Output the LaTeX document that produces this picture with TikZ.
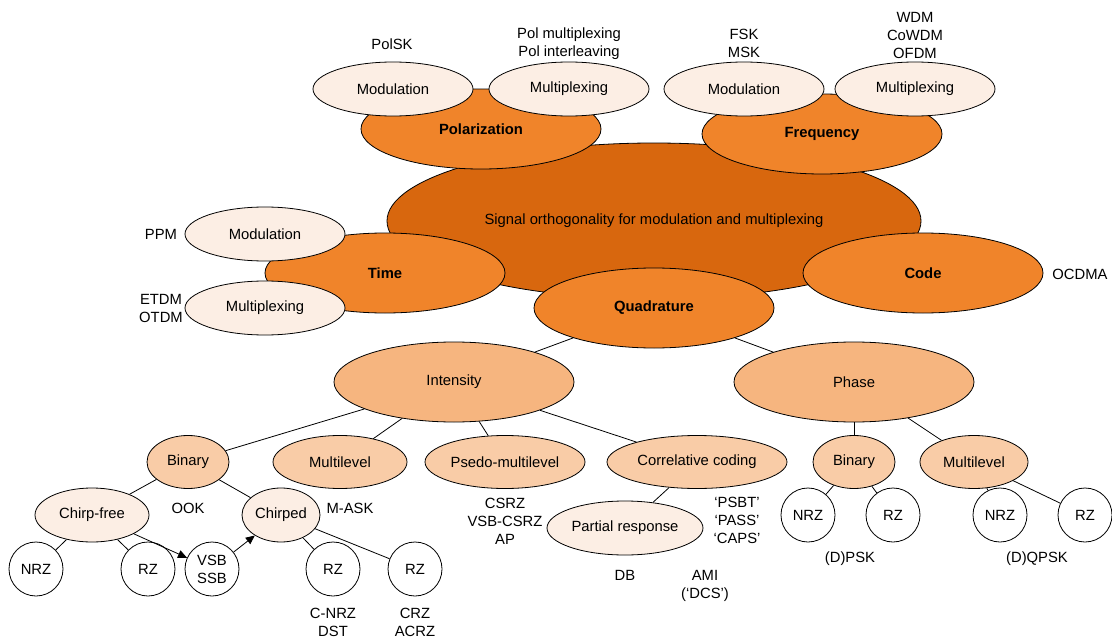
\documentclass[tikz,border=0pt]{standalone}
\usepackage{fontspec}
\setmainfont{Liberation Sans}
\usetikzlibrary{shapes.geometric,arrows.meta}

\definecolor{coreorange}{RGB}{216,103,14}
\definecolor{domorange}{RGB}{240,132,42}
\definecolor{midorange}{RGB}{246,181,127}
\definecolor{suborange}{RGB}{249,204,167}
\definecolor{paleorange}{RGB}{252,238,228}

\tikzset{
  oval/.style={ellipse,draw,line width=0.8pt,inner sep=0pt},
  coreoval/.style={oval,fill=coreorange,minimum width=534pt,minimum height=156pt},
  axisoval/.style={oval,fill=domorange,minimum width=240pt,minimum height=80pt,font=\fontsize{14.8}{18}\selectfont\bfseries},
  useoval/.style={oval,fill=paleorange,minimum width=160pt,minimum height=54pt},
  kindoval/.style={oval,fill=midorange,minimum width=240pt,minimum height=80pt},
  suboval/.style={oval,fill=suborange,minimum height=53pt},
  paleoval/.style={oval,fill=paleorange,minimum height=54pt},
  codeball/.style={circle,draw,line width=0.8pt,fill=white,minimum size=54pt,inner sep=0pt,align=center},
  notetext/.style={align=center,inner sep=0pt},
  link/.style={line width=0.8pt},
  flow/.style={line width=0.8pt,-{Triangle[length=9pt,width=8pt]}}
}

\begin{document}
\begin{tikzpicture}[x=1pt,y=-1pt,font=\fontsize{14.8}{18}\selectfont]
      \useasboundingbox (0,0) rectangle (1112,642);

      % centre and the five domains
      \node[coreoval] (core) at (654,221) {Signal orthogonality for modulation and multiplexing};
      \node[axisoval] (pol)  at (481,129) {Polarization};
      \node[axisoval] (freq) at (822,134) {Frequency};
      \node[axisoval] (time) at (385,273) {Time};
      \node[axisoval] (code) at (923,273) {Code};
      \node[axisoval] (quad) at (654,308) {Quadrature};

      \node[useoval] (polmod) at (393,89)  {Modulation};
      \node[useoval] (polmux) at (569,89)  {Multiplexing};
      \node[useoval] (frqmod) at (744,89)  {Modulation};
      \node[useoval] (frqmux) at (915,89)  {Multiplexing};
      \node[useoval] (timmod) at (265,234) {Modulation};
      \node[useoval] (timmux) at (265,308) {Multiplexing};

      \node[notetext] (polsk)    at (392,44)  {PolSK};
      \node[notetext] (polnames) at (569,44)  {Pol multiplexing\\Pol interleaving};
      \node[notetext] (fsk)      at (744,43)  {FSK\\MSK};
      \node[notetext] (wdm)      at (915,35)  {WDM\\CoWDM\\OFDM};
      \node[notetext] (ppm)      at (161,234) {PPM};
      \node[notetext] (etdm)     at (161,308) {ETDM\\OTDM};
      \node[notetext] (ocdma)    at (1080,274) {OCDMA};

      % quadrature tree
      \node[kindoval] (int) at (454,382) {Intensity};
      \node[kindoval] (pha) at (854,382) {Phase};

      \node[suboval,minimum width=82pt]  (ibin) at (188,462) {Binary};
      \node[suboval,minimum width=134pt] (imul) at (340,462) {Multilevel};
      \node[suboval,minimum width=160pt] (ipsm) at (505,462) {Psedo-multilevel};
      \node[suboval,minimum width=180pt] (icor) at (697,462) {Correlative coding};
      \node[suboval,minimum width=82pt]  (pbin) at (854,462) {Binary};
      \node[suboval,minimum width=108pt] (pmul) at (974,462) {Multilevel};

      \node[paleoval,minimum width=114pt] (cfree) at (92,515)  {Chirp-free};
      \node[paleoval,minimum width=78pt]  (chirp) at (281,515) {Chirped};
      \node[paleoval,minimum width=156pt] (part)  at (625,528) {Partial response};

      \node[codeball] (c1) at (36,569)   {NRZ};
      \node[codeball] (c2) at (148,569)  {RZ};
      \node[codeball] (c3) at (212,569)  {VSB\\SSB};
      \node[codeball] (c4) at (333,569)  {RZ};
      \node[codeball] (c5) at (415,569)  {RZ};
      \node[codeball] (c6) at (808,515)  {NRZ};
      \node[codeball] (c7) at (893,515)  {RZ};
      \node[codeball] (c8) at (1000,515) {NRZ};
      \node[codeball] (c9) at (1085,515) {RZ};

      \node[notetext] (ook)   at (188,508) {OOK};
      \node[notetext] (mask)  at (350,508) {M-ASK};
      \node[notetext] (csrz)  at (505,521) {CSRZ\\VSB-CSRZ\\AP};
      \node[notetext] (psbt)  at (737,520) {‘PSBT’\\‘PASS’\\‘CAPS’};
      \node[notetext] (db)    at (625,575) {DB};
      \node[notetext] (ami)   at (705,586) {AMI\\(‘DCS’)};
      \node[notetext] (cnrz)  at (333,622) {C-NRZ\\DST};
      \node[notetext] (crz)   at (415,622) {CRZ\\ACRZ};
      \node[notetext] (dpsk)  at (850,559) {(D)PSK};
      \node[notetext] (dqpsk) at (1037,559) {(D)QPSK};

      \path[link] (quad) edge (int);
      \path[link] (quad) edge (pha);
      \path[link] (int) edge (ibin);
      \path[link] (int) edge (imul);
      \path[link] (int) edge (ipsm);
      \path[link] (int) edge (icor);
      \path[link] (pha) edge (pbin);
      \path[link] (pha) edge (pmul);
      \path[link] (ibin) edge (cfree);
      \path[link] (ibin) edge (chirp);
      \path[link] (icor) edge (part);
      \path[link] (cfree) edge (c1);
      \path[link] (cfree) edge (c2);
      \path[link] (chirp) edge (c4);
      \path[link] (chirp) edge (c5);
      \path[link] (pbin) edge (c6);
      \path[link] (pbin) edge (c7);
      \path[link] (pmul) edge (c8);
      \path[link] (pmul) edge (c9);
      \path[flow] (cfree) edge (c3);
      \path[flow] (c3) edge (chirp);
    \end{tikzpicture}
\end{document}
